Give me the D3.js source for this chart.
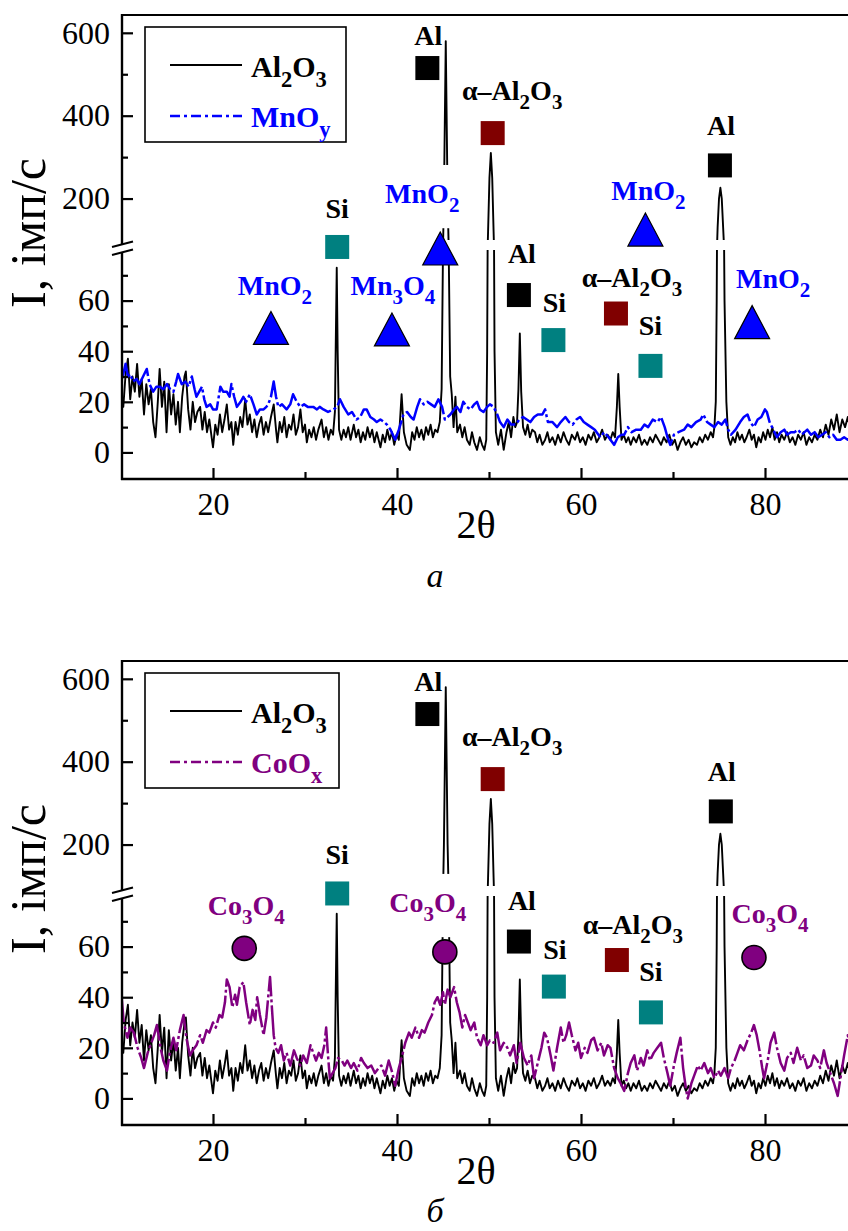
<!DOCTYPE html>
<html><head><meta charset="utf-8">
<script src="https://cdn.jsdelivr.net/npm/d3@7"></script>
<style>
html,body{margin:0;padding:0;background:#fff;}
svg{display:block;}
</style></head><body>
<svg id="chart" width="848" height="1231"></svg>
<script>
// ---------------- DATA ----------------
const xTicksMajor = [20, 40, 60, 80];
const xTicksMinor = [30, 50, 70];
const yLowTicksMajor = [0, 20, 40, 60];
const yLowTicksMinor = [10, 30, 50, 70];
const yHighTicksMajor = [200, 400, 600];
const yHighTicksMinor = [300, 500];

// Al2O3 reference pattern [2θ, I]
const al2o3 = [[10.0,25],[10.25,18],[10.5,31],[10.75,37],[11.0,21],[11.25,30],[11.5,24],[11.75,35],[12.0,22],[12.25,29],[12.5,15],[12.75,27],[13.0,19],[13.25,25],[13.5,12],[13.75,6],[14.0,20],[14.2,33],[14.45,18],[14.7,28],[14.95,8],[15.2,27],[15.45,15],[15.7,23],[15.95,11],[16.2,20],[16.4,8],[16.65,22],[16.9,30],[17.05,32],[17.3,17],[17.55,9],[17.8,20],[18.05,12],[18.3,16],[18.6,18],[18.85,9],[19.1,16],[19.35,8],[19.6,13],[19.85,6],[20.0,2],[20.25,11],[20.5,7],[20.75,15],[21.0,8],[21.25,13],[21.5,19],[21.75,9],[22.0,12],[22.2,3],[22.45,12],[22.7,7],[22.95,14],[23.2,10],[23.5,21],[23.75,11],[24.0,15],[24.25,8],[24.5,13],[24.75,6],[25.0,11],[25.25,14],[25.5,7],[25.75,12],[26.0,8],[26.3,14],[26.6,19],[26.85,9],[27.0,4],[27.25,12],[27.5,8],[27.75,14],[28.0,6],[28.25,11],[28.5,9],[28.75,15],[29.0,7],[29.25,10],[29.5,17],[29.75,8],[30.0,11],[30.2,4],[30.45,9],[30.7,6],[30.95,10],[31.2,5],[31.45,9],[31.8,13],[32.05,6],[32.3,10],[32.55,5],[32.8,9],[33.05,7],[33.25,16],[33.35,45],[33.45,73],[33.55,40],[33.7,9],[33.95,5],[34.2,9],[34.45,6],[34.7,10],[34.95,5],[35.3,11],[35.55,6],[35.8,9],[36.05,4],[36.3,8],[36.55,5],[36.8,10],[37.05,6],[37.3,9],[37.55,4],[37.8,8],[38.0,5],[38.2,2],[38.45,7],[38.7,4],[38.95,9],[39.2,5],[39.45,8],[39.7,3],[39.95,7],[40.2,5],[40.5,23],[40.75,8],[41.05,3],[41.4,1],[41.65,8],[41.9,5],[42.15,10],[42.4,6],[42.65,9],[42.9,5],[43.15,10],[43.4,7],[43.65,11],[43.9,6],[44.15,9],[44.4,8],[44.65,12],[44.85,25],[45.0,80],[45.1,200],[45.3,580],[45.5,200],[45.62,80],[45.78,30],[45.95,23],[46.15,10],[46.35,22],[46.55,8],[46.85,11],[47.1,6],[47.35,10],[47.6,5],[47.9,3],[48.15,8],[48.4,4],[48.7,1],[49.0,6],[49.25,3],[49.5,1],[49.7,5],[49.8,40],[49.9,120],[50.05,250],[50.2,310],[50.35,250],[50.5,120],[50.6,40],[50.75,8],[51.0,3],[51.3,9],[51.6,1],[51.9,8],[52.15,12],[52.4,6],[52.65,14],[52.85,10],[53.05,12],[53.2,25],[53.35,47],[53.5,24],[53.7,10],[53.95,7],[54.2,11],[54.45,6],[54.7,9],[55.0,8],[55.25,4],[55.5,7],[55.8,3],[56.1,5],[56.35,8],[56.6,4],[56.9,6],[57.2,3],[57.5,7],[57.8,4],[58.1,8],[58.4,5],[58.7,3],[59.0,7],[59.35,5],[59.6,8],[59.9,4],[60.2,6],[60.5,3],[60.8,7],[61.1,5],[61.4,8],[61.7,4],[62.0,6],[62.3,9],[62.6,5],[62.9,7],[63.2,5],[63.45,8],[63.7,6],[63.9,18],[64.05,31],[64.2,18],[64.4,5],[64.65,7],[64.9,4],[65.15,6],[65.4,3],[65.7,6],[66.0,4],[66.3,7],[66.6,3],[66.9,5],[67.2,3],[67.5,6],[67.8,4],[68.1,7],[68.4,5],[68.7,3],[69.0,6],[69.3,4],[69.6,7],[69.9,3],[70.2,5],[70.5,1],[70.8,4],[71.1,6],[71.4,3],[71.7,5],[72.0,2],[72.3,4],[72.6,3],[72.9,6],[73.2,4],[73.5,7],[73.8,5],[74.1,8],[74.35,6],[74.5,10],[74.65,20],[74.75,60],[74.85,130],[75.0,200],[75.15,226],[75.3,200],[75.45,130],[75.6,60],[75.8,20],[76.0,6],[76.25,3],[76.5,6],[76.75,4],[77.0,8],[77.25,5],[77.5,7],[77.75,4],[78.0,6],[78.3,9],[78.55,5],[78.8,7],[79.05,2],[79.3,6],[79.55,4],[79.8,8],[80.05,5],[80.3,9],[80.55,6],[80.8,10],[81.05,5],[81.3,8],[81.55,4],[81.8,7],[82.1,5],[82.4,8],[82.7,4],[83.0,6],[83.3,3],[83.6,7],[83.9,5],[84.2,8],[84.5,3],[84.8,6],[85.1,4],[85.4,7],[85.7,5],[86.0,9],[86.3,6],[86.6,11],[86.9,7],[87.2,13],[87.5,9],[87.8,15],[88.1,8],[88.4,13],[88.7,10],[89.0,14],[89.3,9],[89.6,12],[89.9,10]];

// MnOy pattern [2θ, I]
const mnoy = [[10.0,28],[10.25,31],[10.5,35],[10.75,30],[11.0,31],[11.3,28],[11.7,29],[12.0,27],[12.4,30],[12.8,33],[13.1,27],[13.5,24],[13.85,26],[14.2,26],[14.6,25],[15.0,27],[15.35,25],[15.7,24],[16.0,28],[16.2,31],[16.6,27],[17.0,28],[17.35,26],[17.7,30],[18.0,25],[18.2,22],[18.5,24],[18.8,26],[19.05,21],[19.3,18],[19.7,19],[20.0,17],[20.4,17],[20.8,26],[21.1,24],[21.5,24],[21.8,22],[22.0,27],[22.3,22],[22.6,18],[23.0,20],[23.3,22],[23.6,20],[24.0,23],[24.4,19],[24.75,15],[25.1,17],[25.5,17],[25.8,18],[26.0,19],[26.3,22],[26.6,28],[26.85,22],[27.1,18],[27.5,19],[28.0,17],[28.4,19],[28.7,23],[29.1,20],[29.5,18],[29.9,19],[30.3,18],[30.9,18],[31.3,17],[31.6,18],[32.0,17],[32.5,16],[33.1,17],[33.5,18],[33.8,21],[34.2,18],[34.7,15],[35.1,16],[35.6,13],[36.0,14],[36.4,17],[36.7,17],[37.1,14],[37.5,13],[37.8,12],[38.2,13],[38.6,12],[38.9,11],[39.3,9],[39.8,5],[40.2,9],[40.7,15],[41.1,16],[41.5,14],[41.8,13],[42.2,18],[42.5,21],[42.9,19],[43.3,20],[43.7,19],[44.1,18],[44.5,21],[44.9,18],[45.2,13],[45.5,14],[45.8,15],[46.2,17],[46.5,18],[46.9,16],[47.2,20],[47.6,18],[48.0,17],[48.4,19],[48.7,20],[49.0,17],[49.4,16],[49.8,18],[50.1,19],[50.5,18],[50.9,15],[51.2,12],[51.6,10],[52.0,13],[52.4,11],[52.9,11],[53.3,13],[53.7,14],[54.1,13],[54.5,12],[54.9,14],[55.3,15],[55.8,15],[56.1,17],[56.4,12],[56.9,12],[57.4,10],[57.8,12],[58.3,14],[58.7,12],[59.1,11],[59.5,13],[59.9,14],[60.3,12],[60.7,11],[61.1,10],[61.5,9],[62.1,6],[62.5,8],[63.0,6],[63.6,3],[64.0,6],[64.4,7],[64.7,7],[65.1,10],[65.5,8],[66.0,9],[66.5,9],[66.9,11],[67.3,10],[67.8,13],[68.3,12],[68.7,14],[69.1,10],[69.4,6],[69.7,3],[70.1,7],[70.6,8],[71.2,9],[71.6,11],[72.0,10],[72.5,12],[73.0,13],[73.3,15],[73.7,12],[74.1,11],[74.5,10],[74.9,12],[75.3,11],[75.7,13],[76.0,9],[76.3,7],[76.8,9],[77.3,12],[77.7,14],[78.1,15],[78.4,12],[78.8,10],[79.2,13],[79.6,14],[80.0,17],[80.2,16],[80.5,12],[80.9,9],[81.3,6],[81.7,8],[82.1,9],[82.4,7],[82.8,8],[83.2,8],[83.6,9],[84.0,7],[84.3,8],[84.6,9],[85.0,7],[85.4,8],[85.8,6],[86.2,7],[86.6,8],[87.0,6],[87.4,7],[87.8,5],[88.2,5],[88.6,6],[89.0,5],[89.4,6],[89.9,5]];

// CoOx pattern [2θ, I]
const coox = [[10.0,43],[10.3,30],[10.7,24],[11.0,28],[11.4,26],[11.8,20],[12.2,16],[12.5,12],[12.9,18],[13.3,22],[13.6,25],[13.9,29],[14.3,20],[14.6,15],[15.0,11],[15.3,18],[15.7,24],[16.0,19],[16.4,27],[16.8,33],[17.1,24],[17.5,17],[17.8,19],[18.2,21],[18.6,25],[18.9,22],[19.3,27],[19.6,26],[20.0,30],[20.3,28],[20.7,33],[21.0,32],[21.3,38],[21.5,47],[21.8,44],[22.1,36],[22.4,41],[22.6,37],[22.9,44],[23.3,46],[23.6,38],[24.0,29],[24.3,35],[24.6,31],[24.8,40],[25.1,33],[25.5,25],[25.8,32],[26.0,40],[26.2,48],[26.4,36],[26.6,25],[26.8,20],[27.1,18],[27.4,21],[27.7,15],[28.0,18],[28.4,13],[28.8,19],[29.1,16],[29.5,13],[29.8,17],[30.2,14],[30.6,21],[30.9,18],[31.2,15],[31.5,18],[31.8,16],[32.1,21],[32.3,28],[32.5,17],[32.7,8],[33.0,10],[33.3,12],[33.6,16],[34.0,15],[34.3,13],[34.6,15],[35.0,12],[35.3,14],[35.7,11],[36.1,16],[36.4,14],[36.8,12],[37.2,13],[37.6,10],[38.0,12],[38.3,13],[38.7,9],[39.1,15],[39.5,10],[39.8,5],[40.2,12],[40.5,16],[40.9,22],[41.3,26],[41.6,24],[42.0,28],[42.4,24],[42.7,27],[43.0,26],[43.4,30],[43.8,33],[44.1,38],[44.4,40],[44.7,37],[45.0,42],[45.2,37],[45.5,43],[45.8,40],[46.2,44],[46.5,38],[46.8,34],[47.1,28],[47.4,33],[47.7,30],[48.0,27],[48.4,30],[48.7,24],[49.1,21],[49.4,25],[49.8,21],[50.1,23],[50.5,22],[50.9,26],[51.2,19],[51.6,22],[52.0,20],[52.3,17],[52.7,21],[53.0,14],[53.4,22],[53.8,16],[54.2,13],[54.6,17],[54.9,8],[55.3,14],[55.7,20],[56.0,26],[56.3,24],[56.7,17],[57.0,11],[57.4,20],[57.8,28],[58.1,22],[58.4,25],[58.7,30],[59.0,25],[59.4,19],[59.7,22],[60.0,16],[60.4,20],[60.7,18],[61.1,23],[61.4,24],[61.8,19],[62.2,22],[62.5,17],[62.9,21],[63.2,20],[63.6,12],[64.0,8],[64.3,6],[64.7,3],[65.1,10],[65.4,14],[65.8,17],[66.1,11],[66.5,16],[66.8,13],[67.2,19],[67.5,15],[67.9,18],[68.3,20],[68.7,22],[69.0,16],[69.4,10],[69.7,5],[70.1,13],[70.4,18],[70.8,24],[71.1,12],[71.4,4],[71.6,0],[72.0,6],[72.3,9],[72.7,13],[73.0,11],[73.4,14],[73.8,10],[74.1,12],[74.5,8],[74.9,11],[75.2,9],[75.6,12],[76.0,8],[76.3,12],[76.7,15],[77.0,18],[77.3,21],[77.7,19],[78.1,23],[78.5,26],[78.8,29],[79.1,25],[79.4,19],[79.7,12],[79.9,8],[80.3,15],[80.6,22],[81.0,26],[81.3,20],[81.7,14],[82.1,11],[82.4,16],[82.8,18],[83.1,14],[83.5,20],[83.9,15],[84.2,17],[84.6,12],[85.0,13],[85.3,17],[85.7,15],[86.0,12],[86.4,19],[86.7,14],[87.1,10],[87.5,6],[87.9,1],[88.2,8],[88.6,17],[89.0,25],[89.4,18],[89.9,20]];

// Phase markers: [label, 2θ, I, marker]
const phasesA = [
  ["Al", 43.3, 515, "sqBlack"],
  ["α–Al_2O_3", 50.4, 358, "sqRed"],
  ["Al", 75.1, 280, "sqBlack"],
  ["MnO_2", 67.0, 124, "tri"],
  ["MnO_2", 44.7, 80.4, "tri"],
  ["Si", 33.5, 81.2, "sqTeal"],
  ["MnO_2", 26.3, 49.0, "tri"],
  ["Mn_3O_4", 39.45, 48.4, "tri"],
  ["Al", 53.25, 62.2, "sqBlack"],
  ["Si", 57.0, 44.4, "sqTeal"],
  ["α–Al_2O_3", 63.8, 54.9, "sqRed"],
  ["Si", 67.55, 34.2, "sqTeal"],
  ["MnO_2", 78.6, 51.3, "tri"]
];
const phasesB = [
  ["Al", 43.3, 515, "sqBlack"],
  ["α–Al_2O_3", 50.4, 358, "sqRed"],
  ["Al", 75.2, 280, "sqBlack"],
  ["Si", 33.5, 81.0, "sqTeal"],
  ["Co_3O_4", 23.4, 59.3, "circ"],
  ["Co_3O_4", 45.2, 57.9, "circ"],
  ["Al", 53.25, 62.0, "sqBlack"],
  ["Si", 57.05, 44.2, "sqTeal"],
  ["α–Al_2O_3", 63.9, 54.7, "sqRed"],
  ["Si", 67.6, 34.0, "sqTeal"],
  ["Co_3O_4", 78.8, 55.7, "circ"]
];
// label placement relative to marker (style)
const labelOffsetsA = [[1,-23],[19.5,-33],[1,-30],[3,-30],[-18,-46],[0,-29],[4,-33.5],[1,-35],[3,-32],[1,-28],[16,-26.5],[0,-31],[21,-34.5]];
const labelOffsetsB = [[1,-23],[19.5,-33],[1,-30],[0,-29],[2,-33.5],[-17,-40],[3,-32],[1,-28],[16,-26.5],[0,-31],[16,-34.5]];

const legendNames = ["Al_2O_3", "MnO_y", "CoO_x"];
const panelLetters = ["а", "б"];
const axisTitleY = "I, імп/с";
const axisTitleX = "2θ";

// ---------------- STYLE ----------------
const SERIF = "'Liberation Serif','Times New Roman',serif";
const BLUE = "#0000ff", PURPLE = "#800080";
const markerFill = {sqBlack:"#000000", sqRed:"#800000", sqTeal:"#008080", tri:BLUE, circ:PURPLE};
const labelColor = {sqBlack:"#000", sqRed:"#000", sqTeal:"#000", tri:BLUE, circ:PURPLE};

const svg = d3.select("#chart");
const defs = svg.append("defs");

const x = d3.scaleLinear().domain([10, 90]).range([121, 857]);

function richText(textSel, str, fs) {
  const parts = [];
  let i = 0;
  while (i < str.length) {
    if (str[i] === "_") { parts.push({t: str[i+1], sub: true}); i += 2; }
    else { let j = i; while (j < str.length && str[j] !== "_") j++; parts.push({t: str.slice(i, j), sub: false}); i = j; }
  }
  let prevSub = false;
  parts.forEach(p => {
    const ts = textSel.append("tspan").text(p.t);
    if (p.sub) ts.attr("font-size", fs * 0.75).attr("dy", fs * 0.33);
    else if (prevSub) ts.attr("dy", -fs * 0.33);
    prevSub = p.sub;
  });
}

function drawPanel(idx, off, series, color, legendName, phases, offsets) {
  const g = svg.append("g");
  const top = off + 15, breakHi = off + 240, breakLo = off + 250, bottom = off + 479;
  const yHigh = d3.scaleLinear().domain([100, 643]).range([breakHi, top]);
  const yLow = d3.scaleLinear().domain([-10.5, 80]).range([bottom, breakLo]);
  const yAny = v => v > 90 ? yHigh(v) : yLow(v);

  const cidH = "clipH" + idx, cidL = "clipL" + idx;
  defs.append("clipPath").attr("id", cidH).append("rect").attr("x", 122).attr("y", top).attr("width", 760).attr("height", breakHi - top);
  defs.append("clipPath").attr("id", cidL).append("rect").attr("x", 122).attr("y", breakLo).attr("width", 760).attr("height", bottom - breakLo);

  const segs = [[cidH, yHigh], [cidL, yLow]];
  segs.forEach(([cid, ys]) => {
    const line = d3.line().x(d => x(d[0])).y(d => ys(d[1]));
    const gg = g.append("g").attr("clip-path", `url(#${cid})`);
    gg.append("path").datum(al2o3).attr("d", line).attr("fill", "none")
      .attr("stroke", "#000").attr("stroke-width", 1.9).attr("stroke-linejoin", "round");
    gg.append("path").datum(series).attr("d", line).attr("fill", "none")
      .attr("stroke", color).attr("stroke-width", 2.5).attr("stroke-linejoin", "round")
      .attr("stroke-dasharray", "34,3,3,3");
  });

  // labels with white background
  phases.forEach((p, k) => {
    const [lab, th, I, mk] = p;
    const cx = x(th), cy = yAny(I);
    const [dx, dy] = offsets[k];
    const lg = g.append("g");
    const rect = lg.append("rect").attr("fill", "#fff");
    const t = lg.append("text").attr("x", cx + dx).attr("y", cy + dy)
      .attr("text-anchor", "middle").attr("font-family", SERIF).attr("font-weight", "bold")
      .attr("font-size", 28).attr("fill", labelColor[mk]);
    richText(t, lab, 28);
    const bb = t.node().getBBox();
    rect.attr("x", bb.x - 1).attr("y", bb.y - 13).attr("width", bb.width + 2).attr("height", bb.height + 24);
  });
  // markers
  phases.forEach(p => {
    const [lab, th, I, mk] = p;
    const cx = x(th), cy = yAny(I);
    if (mk.startsWith("sq")) {
      g.append("rect").attr("x", cx - 12).attr("y", cy - 12).attr("width", 24).attr("height", 24)
        .attr("fill", markerFill[mk]);
    } else if (mk === "tri") {
      g.append("path").attr("d", `M${cx},${cy-17}L${cx+17.5},${cy+16}L${cx-17.5},${cy+16}Z`)
        .attr("fill", markerFill[mk]).attr("stroke", "#000").attr("stroke-width", 1.2).attr("stroke-linejoin", "miter");
    } else {
      g.append("circle").attr("cx", cx).attr("cy", cy).attr("r", 12)
        .attr("fill", markerFill[mk]).attr("stroke", "#000").attr("stroke-width", 1.6);
    }
  });

  // axes
  const ax = g.append("g").attr("font-family", SERIF);
  ax.append("line").attr("x1", 121).attr("x2", 848).attr("y1", top).attr("y2", top).attr("stroke", "#000").attr("stroke-width", 2.2);
  ax.append("line").attr("x1", 121).attr("x2", 848).attr("y1", bottom).attr("y2", bottom).attr("stroke", "#000").attr("stroke-width", 2.4);
  ax.append("line").attr("x1", 122).attr("x2", 122).attr("y1", top - 1).attr("y2", off + 244).attr("stroke", "#000").attr("stroke-width", 2.4);
  ax.append("line").attr("x1", 122).attr("x2", 122).attr("y1", off + 252).attr("y2", bottom + 1).attr("stroke", "#000").attr("stroke-width", 2.4);
  ax.append("line").attr("x1", 112).attr("x2", 133).attr("y1", off + 247).attr("y2", off + 241.5).attr("stroke", "#000").attr("stroke-width", 2);
  ax.append("line").attr("x1", 112).attr("x2", 133).attr("y1", off + 255).attr("y2", off + 249.5).attr("stroke", "#000").attr("stroke-width", 2);

  const styleAxis = sel => {
    sel.select(".domain").remove();
    sel.selectAll(".tick line").attr("stroke", "#000").attr("stroke-width", 2.2);
    sel.selectAll(".tick text").attr("font-family", SERIF).attr("font-size", 32).attr("fill", "#000");
  };
  ax.append("g").attr("transform", `translate(122,0)`)
    .call(d3.axisLeft(yHigh).tickValues(yHighTicksMajor).tickSize(-11).tickPadding(12)).call(styleAxis);
  ax.append("g").attr("transform", `translate(122,0)`)
    .call(d3.axisLeft(yHigh).tickValues(yHighTicksMinor).tickSize(-6).tickFormat("")).call(styleAxis);
  ax.append("g").attr("transform", `translate(122,0)`)
    .call(d3.axisLeft(yLow).tickValues(yLowTicksMajor).tickSize(-11).tickPadding(12)).call(styleAxis);
  ax.append("g").attr("transform", `translate(122,0)`)
    .call(d3.axisLeft(yLow).tickValues(yLowTicksMinor).tickSize(-6).tickFormat("")).call(styleAxis);
  ax.append("g").attr("transform", `translate(0,${bottom})`)
    .call(d3.axisBottom(x).tickValues(xTicksMajor).tickSize(-11).tickPadding(13)).call(styleAxis);
  ax.append("g").attr("transform", `translate(0,${bottom})`)
    .call(d3.axisBottom(x).tickValues(xTicksMinor).tickSize(-7).tickFormat("")).call(styleAxis);

  ax.append("text").attr("transform", `translate(45,${off + 233}) rotate(-90)`)
    .attr("text-anchor", "middle").attr("font-size", 50).attr("fill", "#000").text(axisTitleY);
  ax.append("text").attr("x", 476).attr("y", off + 538).attr("text-anchor", "middle")
    .attr("font-size", 40).attr("fill", "#000").text(axisTitleX);
  ax.append("text").attr("x", 435).attr("y", idx === 0 ? 587 : 1222).attr("text-anchor", "middle")
    .attr("font-size", 34).attr("font-style", "italic").attr("fill", "#000").text(panelLetters[idx]);

  // legend
  const lgW = idx === 0 ? 201 : 194;
  const leg = g.append("g");
  leg.append("rect").attr("x", 145).attr("y", off + 27).attr("width", lgW).attr("height", 115)
    .attr("fill", "#fff").attr("stroke", "#000").attr("stroke-width", 1.6);
  leg.append("line").attr("x1", 170).attr("x2", 242).attr("y1", off + 65).attr("y2", off + 65)
    .attr("stroke", "#000").attr("stroke-width", 1.9);
  leg.append("line").attr("x1", 170).attr("x2", 242).attr("y1", off + 116).attr("y2", off + 116)
    .attr("stroke", color).attr("stroke-width", 2.5).attr("stroke-dasharray", "10,4,3,4");
  const t1 = leg.append("text").attr("x", 251).attr("y", off + 77).attr("font-family", SERIF)
    .attr("font-weight", "bold").attr("font-size", 30).attr("fill", "#000");
  richText(t1, legendNames[0], 30);
  const t2 = leg.append("text").attr("x", 251).attr("y", off + 127).attr("font-family", SERIF)
    .attr("font-weight", "bold").attr("font-size", 30).attr("fill", color);
  richText(t2, legendName, 30);
}

drawPanel(0, 0, mnoy, BLUE, legendNames[1], phasesA, labelOffsetsA);
drawPanel(1, 646, coox, PURPLE, legendNames[2], phasesB, labelOffsetsB);
</script>
</body></html>
